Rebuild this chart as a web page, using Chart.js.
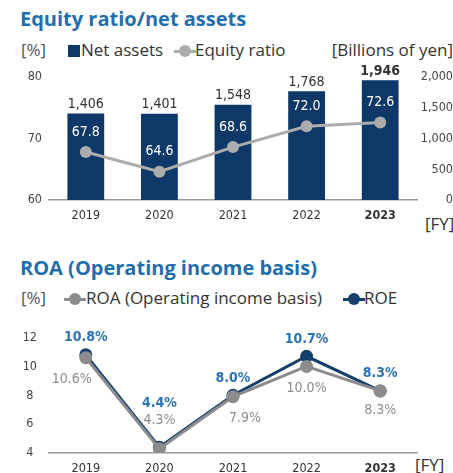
<!DOCTYPE html>
<html>
<head>
<meta charset="utf-8">
<script src="https://cdn.jsdelivr.net/npm/chart.js@4.4.1/dist/chart.umd.min.js"></script>
<style>
  body { margin: 0; width: 453px; height: 473px; position: relative; overflow: hidden; background: #fff; font-family: "Open Sans", sans-serif; color: #333; }
  .title { position: absolute; left: 20px; font-weight: 700; font-size: 20px; color: #1f6fae; white-space: nowrap; }
  .lg { position: absolute; font-size: 17px; line-height: 20px; color: #333; white-space: nowrap; }
  .unit { color: #555; }
  .sq { position: absolute; width: 12px; height: 12px; background: #0d3868; }
  .mk { position: absolute; width: 22px; height: 12px; }
  .mk::before { content: ""; position: absolute; left: 0; right: 0; top: 5px; height: 3px; background: var(--c); }
  .mk::after { content: ""; position: absolute; left: 5px; top: 0; width: 12px; height: 12px; border-radius: 50%; background: var(--c); }
  canvas { position: absolute; left: 0; }
</style>
</head>
<body>
<div class="title" style="top:5px">Equity ratio/net assets</div>
<div class="lg unit" style="left:21px;top:40px">[%]</div>
<span class="sq" style="left:68px;top:45px"></span>
<div class="lg" style="left:81px;top:40px">Net assets</div>
<span class="mk" style="left:174px;top:45px;--c:#acacac"></span>
<div class="lg" style="left:195px;top:40px">Equity ratio</div>
<div class="lg" style="right:0;top:40px">[Billions of yen]</div>
<div class="lg" style="left:425px;top:214px">[FY]</div>

<div class="title" style="top:254px">ROA (Operating income basis)</div>
<div class="lg unit" style="left:21px;top:288px">[%]</div>
<span class="mk" style="left:64px;top:293px;--c:#8c8c8c"></span>
<div class="lg" style="left:86px;top:288px">ROA (Operating income basis)</div>
<span class="mk" style="left:343px;top:293px;--c:#163f6e"></span>
<div class="lg" style="left:364px;top:288px">ROE</div>
<div class="lg" style="left:415px;top:455px">[FY]</div>

<canvas id="equityChart" width="453" height="196" style="top:40px"></canvas>
<canvas id="roaChart" width="453" height="155" style="top:318px"></canvas>

<script>
const years = ["2019", "2020", "2021", "2022", "2023"];
const netAssets = [1406, 1401, 1548, 1768, 1946];
const equityRatio = [67.8, 64.6, 68.6, 72.0, 72.6];
const roa = [10.6, 4.3, 7.9, 10.0, 8.3];
const roe = [10.8, 4.4, 8.0, 10.7, 8.3];
const ratioTicks = [60, 70, 80];
const assetTicks = [0, 500, 1000, 1500, 2000];
const roaTicks = [4, 6, 8, 10, 12];

const NUM_FONT = "'DejaVu Sans Condensed', Roboto, sans-serif";
const TICK_COLOR = "#444";

// draws the value labels next to each mark
const valueLabels = {
  id: "valueLabels",
  afterDatasetsDraw(chart) {
    const ctx = chart.ctx;
    chart.data.datasets.forEach((ds, i) => {
      const lab = ds.valueLabel;
      if (!lab) return;
      chart.getDatasetMeta(i).data.forEach((el, j) => {
        const bold = lab.bold || (lab.boldLast && j === ds.data.length - 1);
        const off = lab.offsets ? lab.offsets[j] : lab.offset;
        ctx.save();
        ctx.font = (bold ? "bold " : "") + lab.size + "px " + NUM_FONT;
        ctx.fillStyle = lab.color;
        ctx.textAlign = "center";
        ctx.textBaseline = "middle";
        ctx.fillText(lab.format(ds.data[j]), el.x + off[0], el.y + off[1]);
        ctx.restore();
      });
    });
  }
};

const tickFont = (c) => ({ family: NUM_FONT, size: 12.5, weight: c.index === years.length - 1 ? "bold" : "normal" });
const fixedTicks = (arr) => (s) => { s.ticks = arr.map(v => ({ value: v })); };
const xAxis = {
  grid: { display: false, drawTicks: false },
  border: { display: true, color: "#9a9a9a", width: 1.5 },
  ticks: { color: "#333", font: tickFont, padding: 8 }
};

new Chart("equityChart", {
  type: "bar",
  data: {
    labels: years,
    datasets: [
      {
        type: "line",
        label: "Equity ratio",
        data: equityRatio,
        yAxisID: "yL",
        order: 0,
        borderColor: "#acacac",
        backgroundColor: "#acacac",
        borderWidth: 3,
        pointRadius: 6,
        pointBorderWidth: 0,
        valueLabel: { color: "#fff", size: 14, offset: [0, -20], format: v => v.toFixed(1) }
      },
      {
        label: "Net assets",
        data: netAssets,
        yAxisID: "yR",
        order: 1,
        backgroundColor: "#0d3868",
        categoryPercentage: 1,
        barPercentage: 0.5,
        valueLabel: { color: "#333", size: 14, boldLast: true, offset: [0, -9], format: v => v.toLocaleString("en-US") }
      }
    ]
  },
  options: {
    responsive: false,
    animation: false,
    layout: { padding: { top: 37 } },
    plugins: { legend: { display: false }, tooltip: { enabled: false } },
    scales: {
      x: { ...xAxis, afterFit: s => { s.height = 36; } },
      yL: {
        position: "left", min: 60, max: 80,
        afterBuildTicks: fixedTicks(ratioTicks),
        afterFit: s => { s.width = 49; },
        grid: { display: false, drawTicks: false },
        border: { display: false },
        ticks: { color: TICK_COLOR, font: { family: NUM_FONT, size: 12.5 }, padding: 7, crossAlign: "center" }
      },
      yR: {
        position: "right", min: 0, max: 2000,
        afterBuildTicks: fixedTicks(assetTicks),
        afterFit: s => { s.width = 36; },
        grid: { display: false, drawTicks: false },
        border: { display: false },
        ticks: { color: TICK_COLOR, font: { family: NUM_FONT, size: 12.5 }, padding: 4, crossAlign: "far", callback: v => v.toLocaleString("en-US") }
      }
    }
  },
  plugins: [valueLabels]
});

new Chart("roaChart", {
  type: "line",
  data: {
    labels: years,
    datasets: [
      {
        label: "ROA (Operating income basis)",
        data: roa,
        order: 0,
        borderColor: "#8c8c8c",
        backgroundColor: "#8c8c8c",
        borderWidth: 3,
        pointRadius: 6.5,
        pointBorderWidth: 0,
        valueLabel: { color: "#8c8c8c", size: 14, offsets: [[-14, 22], [0, -28], [12, 22], [0, 22], [0, 19]], format: v => v.toFixed(1) + "%" }
      },
      {
        label: "ROE",
        data: roe,
        order: 1,
        borderColor: "#163f6e",
        backgroundColor: "#163f6e",
        borderWidth: 3,
        pointRadius: 6.5,
        pointBorderWidth: 0,
        valueLabel: { color: "#2d74b6", size: 14, bold: true, offsets: [[0, -17], [0, -44], [0, -17], [0, -17], [0, -18]], format: v => v.toFixed(1) + "%" }
      }
    ]
  },
  options: {
    responsive: false,
    animation: false,
    layout: { padding: { top: 15 } },
    plugins: { legend: { display: false }, tooltip: { enabled: false } },
    scales: {
      x: { ...xAxis, offset: true, afterFit: s => { s.height = 20; } },
      y: {
        min: 4, max: 12,
        afterBuildTicks: fixedTicks(roaTicks),
        afterFit: s => { s.width = 49; },
        grid: { display: false, drawTicks: false },
        border: { display: false },
        ticks: { color: TICK_COLOR, font: { family: NUM_FONT, size: 12.5 }, padding: 12, crossAlign: "center" }
      },
      y2: { position: "right", display: true, afterFit: s => { s.width = 36; }, grid: { display: false }, border: { display: false }, ticks: { display: false } }
    }
  },
  plugins: [valueLabels]
});
</script>
</body>
</html>
